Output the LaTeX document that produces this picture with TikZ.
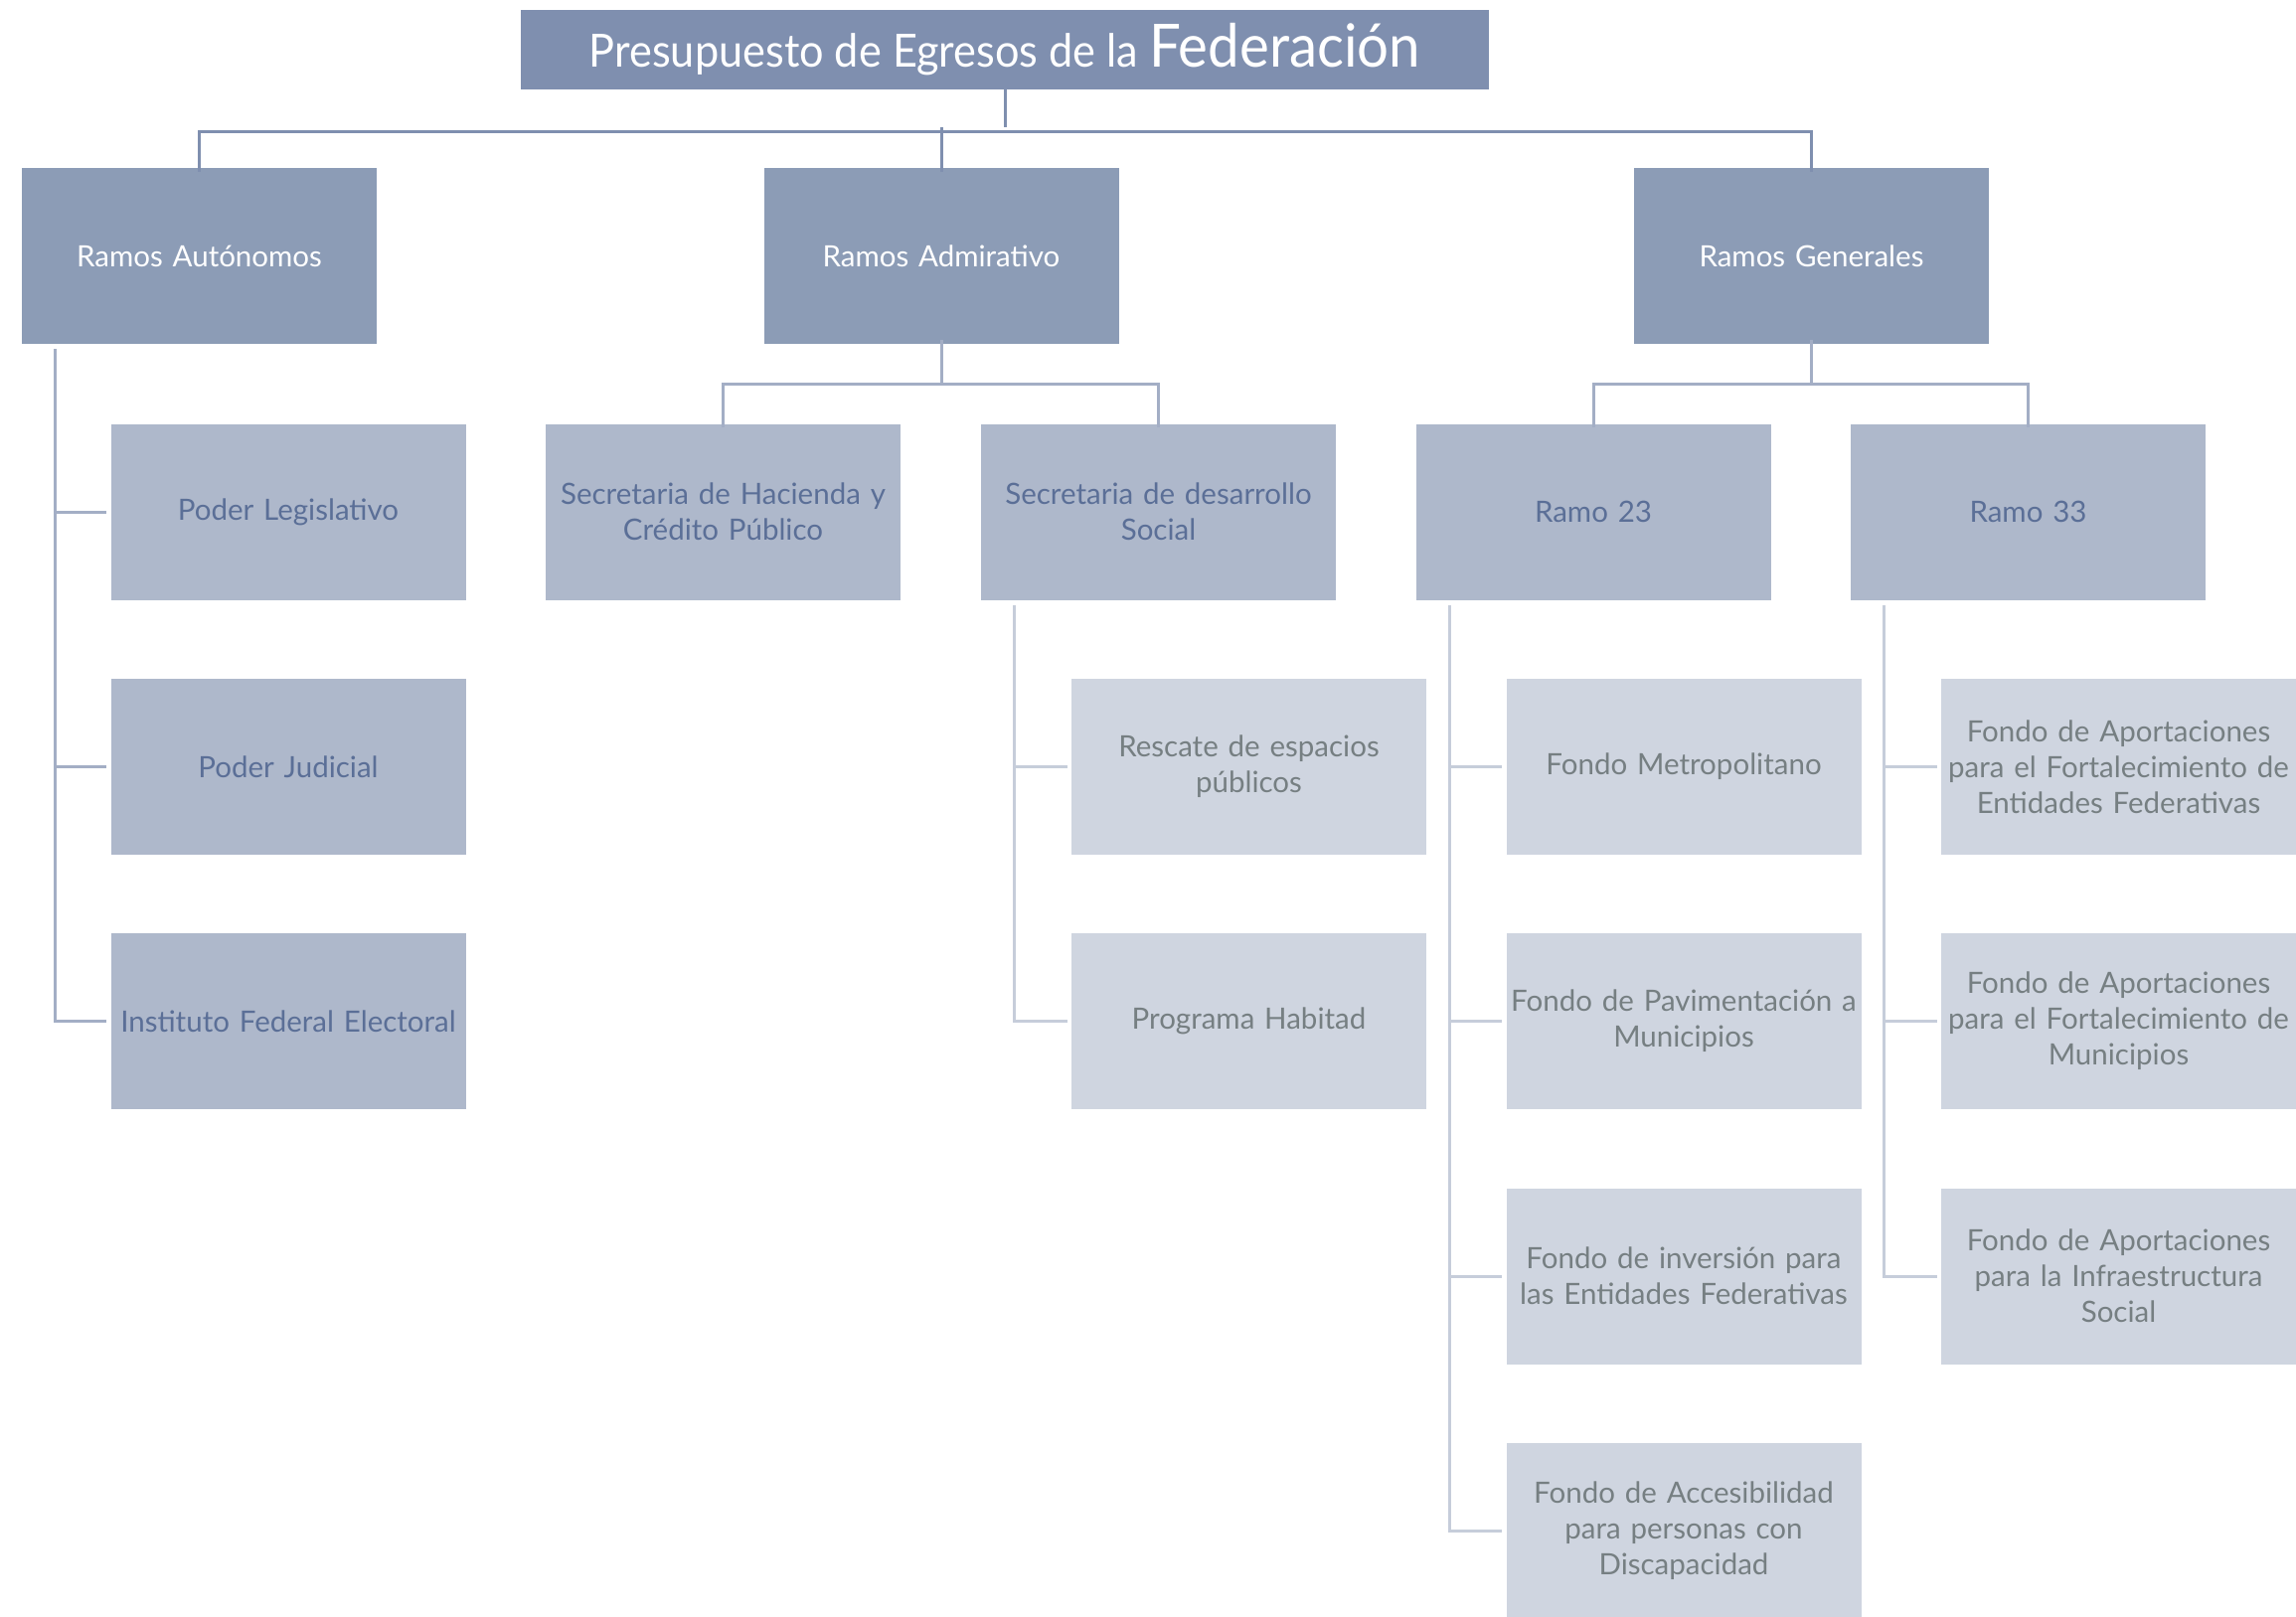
\documentclass[tikz,border=0pt]{standalone}
\usepackage{fontspec}
\setmainfont{Lato}
\newfontfamily\cond[FakeStretch=0.94]{Lato}
\usetikzlibrary{calc}
\definecolor{ctitle}{HTML}{7F8FAF}
\definecolor{cone}{HTML}{8C9CB6}
\definecolor{ctwo}{HTML}{AEB8CB}
\definecolor{cthree}{HTML}{CFD5E0}
\definecolor{ttwo}{HTML}{5B6F97}
\definecolor{tthree}{HTML}{767F82}
\definecolor{lone}{HTML}{7F8FAF}
\definecolor{ltwo}{HTML}{A3AEC5}
\definecolor{lthree}{HTML}{C6CDDA}
\tikzset{
  box/.style={rectangle, inner sep=0pt, minimum width=357pt, minimum height=177pt,
    align=center, text width=350pt, font=\fontsize{29.5}{36}\selectfont},
  titlebox/.style={rectangle, inner sep=0pt, fill=ctitle, minimum width=974pt, minimum height=80pt, text=white},
  lvlone/.style={box, fill=cone, text=white},
  lvltwo/.style={box, fill=ctwo, text=ttwo},
  lvlthree/.style={box, fill=cthree, text=tthree},
  conone/.style={draw=lone, line width=3pt},
  contwo/.style={draw=ltwo, line width=3pt},
  conthree/.style={draw=lthree, line width=3pt}
}
\begin{document}
\begin{tikzpicture}[x=1pt,y=-1pt]
\useasboundingbox (0,0) rectangle (2310,1627);
\node[titlebox] (t) at (1011,50) {{\cond\fontsize{46}{50}\selectfont Presupuesto de Egresos de la }{\cond\fontsize{60}{64}\selectfont Federación}};
\node[lvlone] (ra) at (200.5,257.5) {Ramos Autónomos};
\node[lvlone] (rad) at (947,257.5) {Ramos Admirativo};
\node[lvlone] (rg) at (1822.5,257.5) {Ramos Generales};
\node[lvltwo] (pl) at (290,515) {Poder Legislativo};
\node[lvltwo] (pj) at (290,771.5) {Poder Judicial};
\node[lvltwo] (ife) at (290,1027.5) {Instituto Federal Electoral};
\node[lvltwo] (shcp) at (727.5,515) {Secretaria de Hacienda y\\Crédito Público};
\node[lvltwo] (sds) at (1165.5,515) {Secretaria de desarrollo\\Social};
\node[lvlthree] (rep) at (1256.5,771.5) {Rescate de espacios\\públicos};
\node[lvlthree] (ph) at (1256.5,1027.5) {Programa Habitad};
\node[lvltwo] (r23) at (1603,515) {Ramo 23};
\node[lvltwo] (r33) at (2040.5,515) {Ramo 33};
\node[lvlthree] (fm) at (1694,771.5) {Fondo Metropolitano};
\node[lvlthree] (fp) at (1694,1027.5) {Fondo de Pavimentación a\\Municipios};
\node[lvlthree] (fi) at (1694,1284) {Fondo de inversión para\\las Entidades Federativas};
\node[lvlthree] (fa) at (1694,1540) {Fondo de Accesibilidad\\para personas con\\Discapacidad};
\node[lvlthree] (a1) at (2131.5,771.5) {Fondo de Aportaciones\\para el Fortalecimiento de\\Entidades Federativas};
\node[lvlthree] (a2) at (2131.5,1027.5) {Fondo de Aportaciones\\para el Fortalecimiento de\\Municipios};
\node[lvlthree] (a3) at (2131.5,1284) {Fondo de Aportaciones\\para la Infraestructura\\Social};
% title connectors
\coordinate (tbus) at ($(t.south)+(0,38)$);
\draw[conone] ([yshift=4pt]t.south) -- (tbus);
\draw[conone] ([yshift=-4pt]ra.north) |- ([yshift=-4pt]rg.north |- tbus) -- ([yshift=-4pt]rg.north);
\draw[conone] (tbus -| rad.north) -- ([yshift=-4pt]rad.north);
% Ramos Autonomos
\coordinate (rabus) at ($(ra.south west)+(34,5)$);
\draw[contwo] (rabus) |- ([xshift=-4pt]ife.west);
\draw[contwo] (rabus |- pl.west) -- ([xshift=-4pt]pl.west);
\draw[contwo] (rabus |- pj.west) -- ([xshift=-4pt]pj.west);
% Ramos Admirativo
\coordinate (radbus) at ($(rad.south)+(0,40)$);
\draw[contwo] ([yshift=4pt]rad.south) -- (radbus);
\draw[contwo] ([yshift=-4pt]shcp.north) |- (radbus) -| ([yshift=-4pt]sds.north);
% SEDESOL
\coordinate (sdsbus) at ($(sds.south west)+(34,5)$);
\draw[conthree] (sdsbus) |- ([xshift=-4pt]ph.west);
\draw[conthree] (sdsbus |- rep.west) -- ([xshift=-4pt]rep.west);
% Ramos Generales
\coordinate (rgbus) at ($(rg.south)+(0,40)$);
\draw[contwo] ([yshift=4pt]rg.south) -- (rgbus);
\draw[contwo] ([yshift=-4pt]r23.north) |- (rgbus) -| ([yshift=-4pt]r33.north);
% Ramo 23
\coordinate (r23bus) at ($(r23.south west)+(34,5)$);
\draw[conthree] (r23bus) |- ([xshift=-4pt]fa.west);
\draw[conthree] (r23bus |- fm.west) -- ([xshift=-4pt]fm.west);
\draw[conthree] (r23bus |- fp.west) -- ([xshift=-4pt]fp.west);
\draw[conthree] (r23bus |- fi.west) -- ([xshift=-4pt]fi.west);
% Ramo 33
\coordinate (r33bus) at ($(r33.south west)+(34,5)$);
\draw[conthree] (r33bus) |- ([xshift=-4pt]a3.west);
\draw[conthree] (r33bus |- a1.west) -- ([xshift=-4pt]a1.west);
\draw[conthree] (r33bus |- a2.west) -- ([xshift=-4pt]a2.west);
\end{tikzpicture}
\end{document}
